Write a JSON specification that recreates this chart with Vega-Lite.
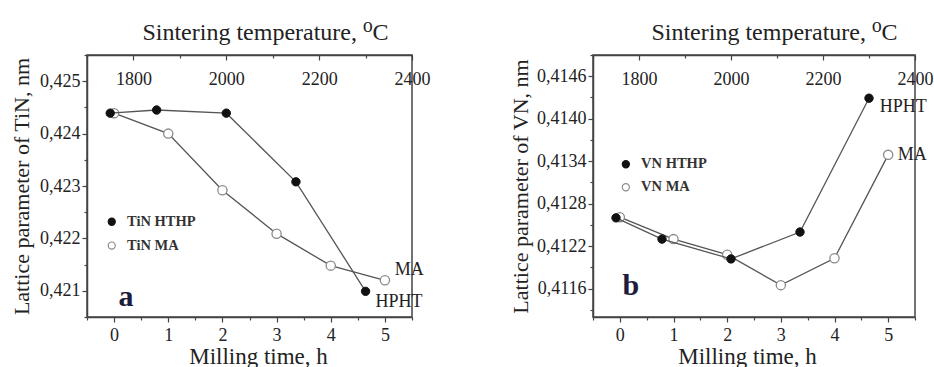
{
  "$schema": "https://vega.github.io/schema/vega-lite/v6.json",
  "background": "white",
  "padding": {"left": 9, "top": 20, "right": 0, "bottom": 0},
  "spacing": 77,
  "datasets": {
    "tin_ma": [
      {"s": "TiN MA", "x": 0, "y": 0.42439},
      {"s": "TiN MA", "x": 1, "y": 0.4240},
      {"s": "TiN MA", "x": 2, "y": 0.42292},
      {"s": "TiN MA", "x": 3, "y": 0.42209},
      {"s": "TiN MA", "x": 4, "y": 0.42148},
      {"s": "TiN MA", "x": 5, "y": 0.4212}
    ],
    "tin_hp": [
      {"s": "TiN HTHP", "x": 1750, "y": 0.42439},
      {"s": "TiN HTHP", "x": 1850, "y": 0.42445},
      {"s": "TiN HTHP", "x": 2000, "y": 0.42439},
      {"s": "TiN HTHP", "x": 2150, "y": 0.42308},
      {"s": "TiN HTHP", "x": 2300, "y": 0.42099}
    ],
    "tin_lbl": [
      {"label": "MA", "x": 5.45, "y": 0.421405},
      {"label": "HPHT", "x": 5.26, "y": 0.420793}
    ],
    "tin_letter": [
      {"label": "a", "x": 0.22, "y": 0.42089}
    ],
    "vn_ma": [
      {"s": "VN MA", "x": 0, "y": 0.41261},
      {"s": "VN MA", "x": 1, "y": 0.4123},
      {"s": "VN MA", "x": 2, "y": 0.41208},
      {"s": "VN MA", "x": 3, "y": 0.41165},
      {"s": "VN MA", "x": 4, "y": 0.41203},
      {"s": "VN MA", "x": 5, "y": 0.41349}
    ],
    "vn_hp": [
      {"s": "VN HTHP", "x": 1750, "y": 0.4126},
      {"s": "VN HTHP", "x": 1850, "y": 0.4123},
      {"s": "VN HTHP", "x": 2000, "y": 0.41202},
      {"s": "VN HTHP", "x": 2150, "y": 0.4124},
      {"s": "VN HTHP", "x": 2300, "y": 0.41429}
    ],
    "vn_lbl": [
      {"label": "HPHT", "x": 5.28, "y": 0.41417},
      {"label": "MA", "x": 5.45, "y": 0.41349}
    ],
    "vn_letter": [
      {"label": "b", "x": 0.205, "y": 0.41164}
    ]
  },
  "hconcat": [
    {
      "width": 325,
      "height": 262,
      "encoding": {
        "y": {"field": "y", "type": "quantitative", "scale": {"domain": [0.4205, 0.4255], "nice": false, "zero": false},
          "axis": {"title": "Lattice parameter of TiN, nm", "titleFontSize": 22, "titlePadding": 6,
            "values": [0.4205, 0.421, 0.4215, 0.422, 0.4225, 0.423, 0.4235, 0.424, 0.4245, 0.425, 0.4255],
            "labelExpr": "abs(datum.value*1000 - round(datum.value*1000)) > 0.01 ? '' : replace(format(datum.value, '.3f'), '.', ',')",
            "tickSize": {"condition": {"test": "abs(datum.value*1000 - round(datum.value*1000)) > 0.01", "value": 3}, "value": 5},
            "labelPadding": 2}}
      },
      "layer": [
        {
          "encoding": {
            "x": {"field": "x", "type": "quantitative", "scale": {"domain": [-0.5, 5.5], "nice": false, "zero": false},
              "axis": {"orient": "bottom", "title": "Milling time, h", "titleFontSize": 23, "titlePadding": 1, "titleX": 171,
                "values": [-0.5, 0, 0.5, 1, 1.5, 2, 2.5, 3, 3.5, 4, 4.5, 5, 5.5],
                "labelExpr": "datum.value % 1 != 0 ? '' : format(datum.value, 'd')",
                "tickSize": {"condition": {"test": "datum.value % 1 != 0", "value": 3}, "value": 5},
                "labelPadding": 4}}
          },
          "layer": [
            {"data": {"name": "tin_ma"}, "mark": {"type": "line", "color": "#555", "strokeWidth": 1.3}},
            {"data": {"name": "tin_ma"}, "mark": {"type": "circle", "size": 85, "strokeWidth": 1.3, "opacity": 1},
              "encoding": {
                "fill": {"field": "s", "type": "nominal", "scale": {"domain": ["TiN HTHP", "TiN MA"], "range": ["#111111", "#ffffff"]},
                  "legend": {"orient": "none", "legendX": 17.5, "legendY": 159.5, "title": null, "padding": 0, "labelFontSize": 14.5, "labelFontWeight": "bold", "symbolSize": 50, "symbolStrokeWidth": 1.2, "rowPadding": 8.8, "labelOffset": 8, "symbolType": "circle"}},
                "stroke": {"field": "s", "type": "nominal", "scale": {"domain": ["TiN HTHP", "TiN MA"], "range": ["#111111", "#8a8a8a"]},
                  "legend": {"orient": "none", "legendX": 17.5, "legendY": 159.5, "title": null, "padding": 0, "labelFontSize": 14.5, "labelFontWeight": "bold", "symbolSize": 50, "symbolStrokeWidth": 1.2, "rowPadding": 8.8, "labelOffset": 8, "symbolType": "circle"}}
              }},
            {"data": {"name": "tin_lbl"}, "mark": {"type": "text", "fontSize": 18, "color": "#222", "baseline": "middle"}, "encoding": {"text": {"field": "label"}}},
            {"data": {"name": "tin_letter"}, "mark": {"type": "text", "fontSize": 30, "fontWeight": "bold", "color": "#1c1c3c", "baseline": "middle"}, "encoding": {"text": {"field": "label"}}}
          ]
        },
        {
          "data": {"name": "tin_hp"},
          "encoding": {
            "x": {"field": "x", "type": "quantitative", "scale": {"domain": [1700, 2400], "nice": false, "zero": false},
              "axis": {"orient": "top", "title": "Sintering temperature, ⁰C", "titleFontSize": 24, "titlePadding": 9.5, "titleX": 178,
                "titleFont": "Liberation Serif, DejaVu Serif",
                "values": [1700, 1800, 1900, 2000, 2100, 2200, 2300, 2400],
                "labelExpr": "datum.value % 200 != 0 ? '' : format(datum.value, 'd')",
                "tickSize": {"condition": {"test": "datum.value % 200 != 0", "value": -3}, "value": -5},
                "labelPadding": -24, "labelBaseline": "alphabetic"}}
          },
          "layer": [
            {"mark": {"type": "line", "color": "#555", "strokeWidth": 1.3}},
            {"mark": {"type": "circle", "size": 70, "strokeWidth": 1, "opacity": 1},
              "encoding": {
                "fill": {"field": "s", "type": "nominal", "scale": {"domain": ["TiN HTHP", "TiN MA"], "range": ["#111111", "#ffffff"]},
                  "legend": {"orient": "none", "legendX": 17.5, "legendY": 159.5, "title": null, "padding": 0, "labelFontSize": 14.5, "labelFontWeight": "bold", "symbolSize": 50, "symbolStrokeWidth": 1.2, "rowPadding": 8.8, "labelOffset": 8, "symbolType": "circle"}},
                "stroke": {"field": "s", "type": "nominal", "scale": {"domain": ["TiN HTHP", "TiN MA"], "range": ["#111111", "#8a8a8a"]},
                  "legend": {"orient": "none", "legendX": 17.5, "legendY": 159.5, "title": null, "padding": 0, "labelFontSize": 14.5, "labelFontWeight": "bold", "symbolSize": 50, "symbolStrokeWidth": 1.2, "rowPadding": 8.8, "labelOffset": 8, "symbolType": "circle"}}
              }}
          ]
        }
      ],
      "resolve": {"scale": {"x": "independent"}, "axis": {"x": "independent"}}
    },
    {
      "width": 322,
      "height": 262,
      "encoding": {
        "y": {"field": "y", "type": "quantitative", "scale": {"domain": [0.4112, 0.4149], "nice": false, "zero": false},
          "axis": {"title": "Lattice parameter of VN, nm", "titleFontSize": 22, "titlePadding": 4,
            "values": [0.4113, 0.4116, 0.4119, 0.4122, 0.4125, 0.4128, 0.4131, 0.4134, 0.4137, 0.414, 0.4143, 0.4146, 0.4149],
            "labelExpr": "round((datum.value - 0.4116) / 0.0003) % 2 != 0 ? '' : replace(format(datum.value, '.4f'), '.', ',')",
            "tickSize": {"condition": {"test": "round((datum.value - 0.4116) / 0.0003) % 2 != 0", "value": 3}, "value": 5},
            "labelPadding": 2}}
      },
      "layer": [
        {
          "encoding": {
            "x": {"field": "x", "type": "quantitative", "scale": {"domain": [-0.5, 5.5], "nice": false, "zero": false},
              "axis": {"orient": "bottom", "title": "Milling time, h", "titleFontSize": 23, "titlePadding": 1, "titleX": 154,
                "values": [-0.5, 0, 0.5, 1, 1.5, 2, 2.5, 3, 3.5, 4, 4.5, 5, 5.5],
                "labelExpr": "datum.value % 1 != 0 ? '' : format(datum.value, 'd')",
                "tickSize": {"condition": {"test": "datum.value % 1 != 0", "value": 3}, "value": 5},
                "labelPadding": 4}}
          },
          "layer": [
            {"data": {"name": "vn_ma"}, "mark": {"type": "line", "color": "#555", "strokeWidth": 1.3}},
            {"data": {"name": "vn_ma"}, "mark": {"type": "circle", "size": 85, "strokeWidth": 1.3, "opacity": 1},
              "encoding": {
                "fill": {"field": "s", "type": "nominal", "scale": {"domain": ["VN HTHP", "VN MA"], "range": ["#111111", "#ffffff"]},
                  "legend": {"orient": "none", "legendX": 25.6, "legendY": 102, "title": null, "padding": 0, "labelFontSize": 14.5, "labelFontWeight": "bold", "symbolSize": 50, "symbolStrokeWidth": 1.2, "rowPadding": 8, "labelOffset": 8, "symbolType": "circle"}},
                "stroke": {"field": "s", "type": "nominal", "scale": {"domain": ["VN HTHP", "VN MA"], "range": ["#111111", "#8a8a8a"]},
                  "legend": {"orient": "none", "legendX": 25.6, "legendY": 102, "title": null, "padding": 0, "labelFontSize": 14.5, "labelFontWeight": "bold", "symbolSize": 50, "symbolStrokeWidth": 1.2, "rowPadding": 8, "labelOffset": 8, "symbolType": "circle"}}
              }},
            {"data": {"name": "vn_lbl"}, "mark": {"type": "text", "fontSize": 18, "color": "#222", "baseline": "middle"}, "encoding": {"text": {"field": "label"}}},
            {"data": {"name": "vn_letter"}, "mark": {"type": "text", "fontSize": 30, "fontWeight": "bold", "color": "#1c1c3c", "baseline": "middle"}, "encoding": {"text": {"field": "label"}}}
          ]
        },
        {
          "data": {"name": "vn_hp"},
          "encoding": {
            "x": {"field": "x", "type": "quantitative", "scale": {"domain": [1700, 2400], "nice": false, "zero": false},
              "axis": {"orient": "top", "title": "Sintering temperature, ⁰C", "titleFontSize": 24, "titlePadding": 9.5, "titleX": 181,
                "titleFont": "Liberation Serif, DejaVu Serif",
                "values": [1700, 1800, 1900, 2000, 2100, 2200, 2300, 2400],
                "labelExpr": "datum.value % 200 != 0 ? '' : format(datum.value, 'd')",
                "tickSize": {"condition": {"test": "datum.value % 200 != 0", "value": -3}, "value": -5},
                "labelPadding": -24, "labelBaseline": "alphabetic"}}
          },
          "layer": [
            {"mark": {"type": "line", "color": "#555", "strokeWidth": 1.3}},
            {"mark": {"type": "circle", "size": 70, "strokeWidth": 1, "opacity": 1},
              "encoding": {
                "fill": {"field": "s", "type": "nominal", "scale": {"domain": ["VN HTHP", "VN MA"], "range": ["#111111", "#ffffff"]},
                  "legend": {"orient": "none", "legendX": 25.6, "legendY": 102, "title": null, "padding": 0, "labelFontSize": 14.5, "labelFontWeight": "bold", "symbolSize": 50, "symbolStrokeWidth": 1.2, "rowPadding": 8, "labelOffset": 8, "symbolType": "circle"}},
                "stroke": {"field": "s", "type": "nominal", "scale": {"domain": ["VN HTHP", "VN MA"], "range": ["#111111", "#8a8a8a"]},
                  "legend": {"orient": "none", "legendX": 25.6, "legendY": 102, "title": null, "padding": 0, "labelFontSize": 14.5, "labelFontWeight": "bold", "symbolSize": 50, "symbolStrokeWidth": 1.2, "rowPadding": 8, "labelOffset": 8, "symbolType": "circle"}}
              }}
          ]
        }
      ],
      "resolve": {"scale": {"x": "independent"}, "axis": {"x": "independent"}}
    }
  ],
  "resolve": {"scale": {"fill": "independent", "stroke": "independent"}},
  "config": {
    "font": "Liberation Serif",
    "view": {"stroke": "#444", "strokeWidth": 1.5},
    "text": {"font": "Liberation Serif"},
    "legend": {"labelFont": "Liberation Serif", "labelColor": "#333"},
    "axis": {
      "grid": false,
      "domainColor": "#444", "domainWidth": 1.5,
      "tickColor": "#444", "tickWidth": 1.2,
      "labelFont": "Liberation Serif", "labelFontSize": 18, "labelColor": "#222",
      "labelFlush": false, "labelOverlap": false, "labelBound": false,
      "titleFont": "Liberation Serif", "titleFontWeight": "normal", "titleColor": "#222"
    }
  }
}
